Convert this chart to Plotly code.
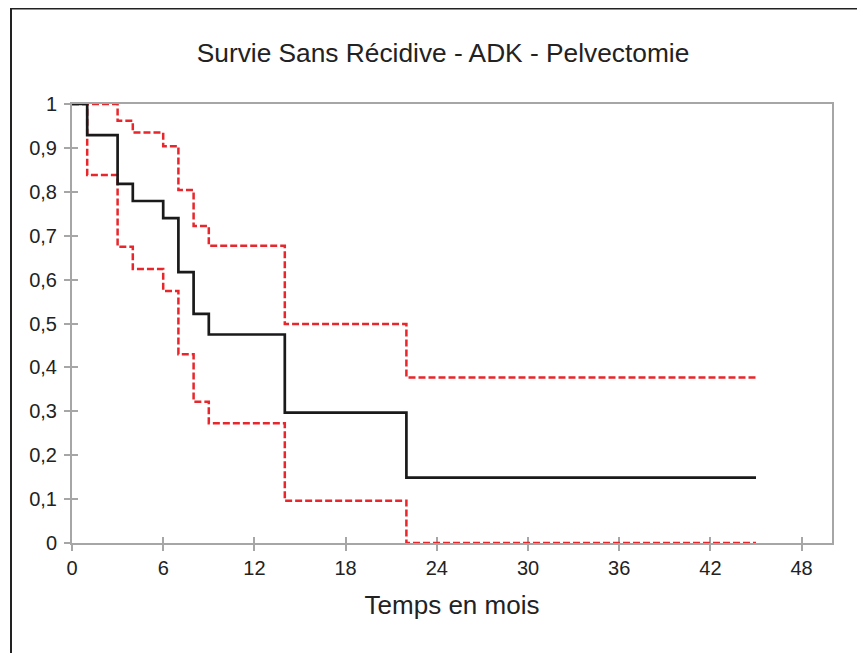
import plotly.graph_objects as go

# Data
times = [0, 1, 3, 4, 6, 7, 8, 9, 14, 22, 45]
survival = [1, 0.929, 0.818, 0.779, 0.740, 0.617, 0.522, 0.475, 0.297, 0.149, 0.149]
upper_ci = [1, 1, 0.962, 0.935, 0.904, 0.804, 0.722, 0.677, 0.499, 0.377, 0.377]
lower_ci = [1, 0.838, 0.675, 0.624, 0.574, 0.430, 0.322, 0.273, 0.096, 0, 0]

x_ticks = [0, 6, 12, 18, 24, 30, 36, 42, 48]
x_ticklabels = [str(v) for v in x_ticks]
y_ticks = [0, 0.1, 0.2, 0.3, 0.4, 0.5, 0.6, 0.7, 0.8, 0.9, 1]
y_ticklabels = ["0", "0,1", "0,2", "0,3", "0,4", "0,5", "0,6", "0,7", "0,8", "0,9", "1"]

W, H = 865, 653
OFF = 8  # page body margin offset
# plot area in screen pixels: left 72, right 832, top 104, bottom 543
ML = 72 - OFF
MT = 104 - OFF
MR = W - (832 - OFF)
MB = H - (543 - OFF)
PW, PH = W - ML - MR, H - MT - MB

def px2paper_x(px):
    return (px - OFF - ML) / PW

def px2paper_y(py):
    return (H - MB - (py - OFF)) / PH

FONT = "Liberation Sans, Arial, sans-serif"
GRAY = "#a6a6a6"
RED = "#e8262b"
TICKSIZE = 20

fig = go.Figure()
for vals in (upper_ci, lower_ci):
    fig.add_trace(go.Scatter(x=times, y=vals, mode="lines", line_shape="hv",
                             line=dict(color=RED, width=2.5, dash="7px,3px"),
                             cliponaxis=False, showlegend=False, hoverinfo="skip"))
fig.add_trace(go.Scatter(x=times, y=survival, mode="lines", line_shape="hv",
                         line=dict(color="#1a1a1a", width=2.7),
                         cliponaxis=False, showlegend=False, hoverinfo="skip"))
# invisible trace for overlay axes (crossing ticks)
fig.add_trace(go.Scatter(x=[0], y=[0], xaxis="x2", yaxis="y2", mode="markers",
                         marker=dict(opacity=0), showlegend=False, hoverinfo="skip"))

fig.update_layout(
    width=W, height=H,
    margin=dict(l=ML, r=MR, t=MT, b=MB, autoexpand=False),
    paper_bgcolor="white", plot_bgcolor="white",
    font=dict(family=FONT, color="#222222", size=TICKSIZE),
    title=dict(text="Survie Sans Récidive - ADK - Pelvectomie",
               font=dict(size=26.3, family=FONT, color="#222222"),
               x=(443 - OFF) / W, xanchor="center", xref="container",
               y=1 - (53 - OFF) / H, yanchor="middle", yref="container"),
    xaxis=dict(range=[0, 50], tickmode="array", tickvals=x_ticks, ticktext=x_ticklabels,
               ticks="outside", ticklen=6, automargin=False,
               tickcolor=GRAY, tickwidth=1.5, showline=True, linecolor=GRAY,
               linewidth=2, mirror=True, showgrid=False, zeroline=False,
               layer="below traces", tickfont_size=TICKSIZE, tickfont_family=FONT,
               title=dict(text="Temps en mois", font=dict(size=26), standoff=18)),
    yaxis=dict(range=[0, 1], tickmode="array", tickvals=y_ticks, ticktext=y_ticklabels,
               ticks="outside", ticklen=6, tickcolor=GRAY, tickwidth=1.5, automargin=False,
               showline=True, linecolor=GRAY, linewidth=2, mirror=True,
               showgrid=False, zeroline=False, layer="below traces",
               tickfont_size=TICKSIZE, tickfont_family=FONT, ticklabelstandoff=3),
    xaxis2=dict(range=[0, 50], tickvals=x_ticks, ticks="inside", ticklen=6,
                tickcolor=GRAY, tickwidth=1.5, showticklabels=False,
                overlaying="x", anchor="y", showgrid=False, zeroline=False,
                showline=False, layer="below traces"),
    yaxis2=dict(range=[0, 1], tickvals=y_ticks, ticks="inside", ticklen=6,
                tickcolor=GRAY, tickwidth=1.5, showticklabels=False,
                overlaying="y", anchor="x", showgrid=False, zeroline=False,
                showline=False, layer="below traces"),
    shapes=[
        dict(type="line", xref="paper", yref="paper",
             x0=px2paper_x(11), x1=px2paper_x(11),
             y0=px2paper_y(8.5), y1=px2paper_y(H + 10),
             line=dict(color="#222222", width=2)),
        dict(type="line", xref="paper", yref="paper",
             x0=px2paper_x(10), x1=px2paper_x(W + 10),
             y0=px2paper_y(8.5), y1=px2paper_y(8.5),
             line=dict(color="#222222", width=2)),
    ],
)

fig.write_html("out.html")
